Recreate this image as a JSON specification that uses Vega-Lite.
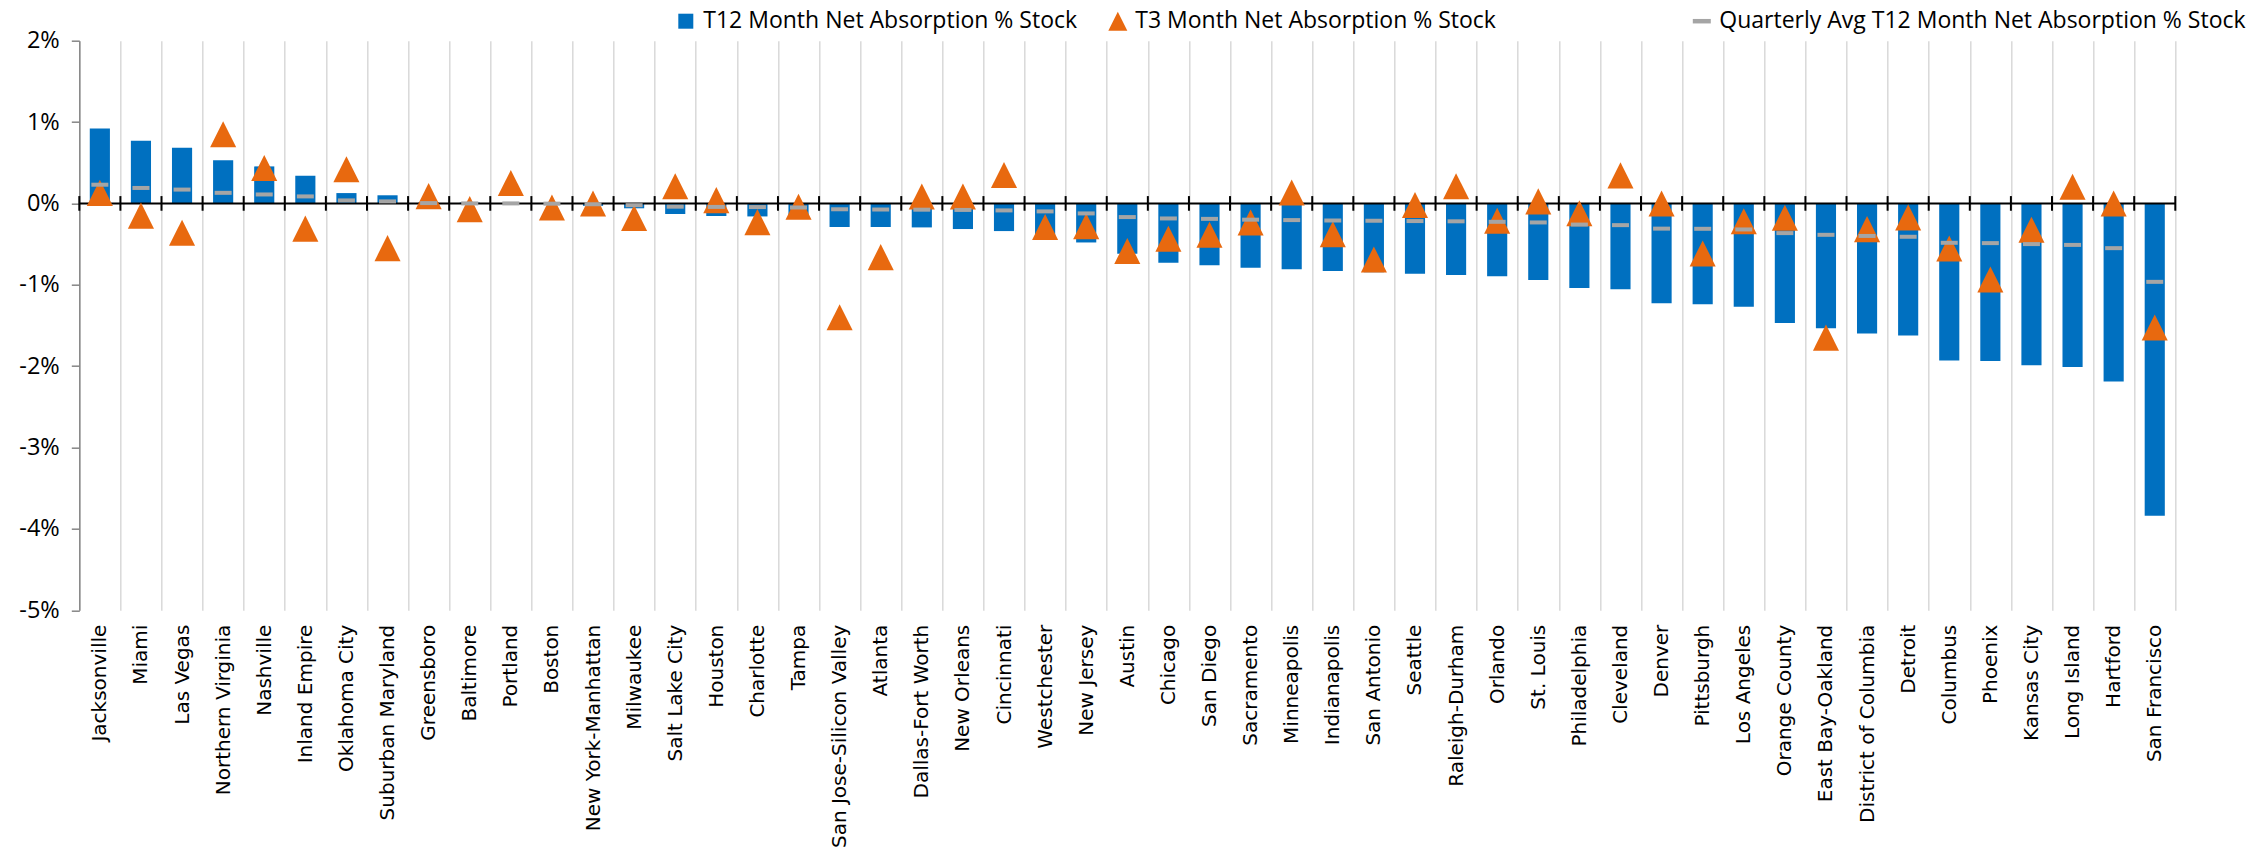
{
  "$schema": "https://vega.github.io/schema/vega-lite/v6.json",
  "width": 2096,
  "height": 569.5,
  "autosize": "none",
  "padding": {"left": 79.3, "top": 40.7, "right": 73.7, "bottom": 242.8},
  "background": "white",
  "config": {"view": {"stroke": null}, "font": "Open Sans"},
  "data": {"values": [
    {"city": "Jacksonville", "t12": 0.92, "t3": 0.13, "avg": 0.23},
    {"city": "Miami", "t12": 0.77, "t3": -0.15, "avg": 0.19},
    {"city": "Las Vegas", "t12": 0.685, "t3": -0.36, "avg": 0.17},
    {"city": "Northern Virginia", "t12": 0.53, "t3": 0.85, "avg": 0.13},
    {"city": "Nashville", "t12": 0.455, "t3": 0.435, "avg": 0.11},
    {"city": "Inland Empire", "t12": 0.34, "t3": -0.31, "avg": 0.086},
    {"city": "Oklahoma City", "t12": 0.127, "t3": 0.42, "avg": 0.037},
    {"city": "Suburban Maryland", "t12": 0.1, "t3": -0.55, "avg": 0.025},
    {"city": "Greensboro", "t12": 0.015, "t3": 0.09, "avg": 0.004},
    {"city": "Baltimore", "t12": 0.01, "t3": -0.07, "avg": 0.0},
    {"city": "Portland", "t12": 0.0, "t3": 0.25, "avg": 0.0},
    {"city": "Boston", "t12": -0.005, "t3": -0.05, "avg": -0.003},
    {"city": "New York-Manhattan", "t12": -0.03, "t3": 0.0, "avg": -0.01},
    {"city": "Milwaukee", "t12": -0.06, "t3": -0.18, "avg": -0.022},
    {"city": "Salt Lake City", "t12": -0.13, "t3": 0.21, "avg": -0.04},
    {"city": "Houston", "t12": -0.155, "t3": 0.04, "avg": -0.043},
    {"city": "Charlotte", "t12": -0.16, "t3": -0.23, "avg": -0.045},
    {"city": "Tampa", "t12": -0.18, "t3": -0.04, "avg": -0.05},
    {"city": "San Jose-Silicon Valley", "t12": -0.29, "t3": -1.4, "avg": -0.072},
    {"city": "Atlanta", "t12": -0.29, "t3": -0.66, "avg": -0.075},
    {"city": "Dallas-Fort Worth", "t12": -0.295, "t3": 0.086, "avg": -0.077},
    {"city": "New Orleans", "t12": -0.315, "t3": 0.086, "avg": -0.08},
    {"city": "Cincinnati", "t12": -0.34, "t3": 0.35, "avg": -0.086},
    {"city": "Westchester", "t12": -0.4, "t3": -0.29, "avg": -0.098},
    {"city": "New Jersey", "t12": -0.48, "t3": -0.28, "avg": -0.123},
    {"city": "Austin", "t12": -0.62, "t3": -0.585, "avg": -0.168},
    {"city": "Chicago", "t12": -0.73, "t3": -0.435, "avg": -0.185},
    {"city": "San Diego", "t12": -0.76, "t3": -0.385, "avg": -0.19},
    {"city": "Sacramento", "t12": -0.79, "t3": -0.234, "avg": -0.2},
    {"city": "Minneapolis", "t12": -0.81, "t3": 0.135, "avg": -0.205},
    {"city": "Indianapolis", "t12": -0.83, "t3": -0.38, "avg": -0.21},
    {"city": "San Antonio", "t12": -0.845, "t3": -0.69, "avg": -0.213},
    {"city": "Seattle", "t12": -0.865, "t3": -0.02, "avg": -0.217},
    {"city": "Raleigh-Durham", "t12": -0.88, "t3": 0.21, "avg": -0.22},
    {"city": "Orlando", "t12": -0.894, "t3": -0.213, "avg": -0.226},
    {"city": "St. Louis", "t12": -0.94, "t3": 0.025, "avg": -0.234},
    {"city": "Philadelphia", "t12": -1.04, "t3": -0.12, "avg": -0.26},
    {"city": "Cleveland", "t12": -1.054, "t3": 0.345, "avg": -0.267},
    {"city": "Denver", "t12": -1.226, "t3": 0.0, "avg": -0.31},
    {"city": "Pittsburgh", "t12": -1.24, "t3": -0.615, "avg": -0.312},
    {"city": "Los Angeles", "t12": -1.27, "t3": -0.22, "avg": -0.32},
    {"city": "Orange County", "t12": -1.47, "t3": -0.176, "avg": -0.365},
    {"city": "East Bay-Oakland", "t12": -1.534, "t3": -1.65, "avg": -0.386},
    {"city": "District of Columbia", "t12": -1.6, "t3": -0.316, "avg": -0.4},
    {"city": "Detroit", "t12": -1.624, "t3": -0.172, "avg": -0.41},
    {"city": "Columbus", "t12": -1.93, "t3": -0.554, "avg": -0.484},
    {"city": "Phoenix", "t12": -1.936, "t3": -0.935, "avg": -0.488},
    {"city": "Kansas City", "t12": -1.99, "t3": -0.324, "avg": -0.5},
    {"city": "Long Island", "t12": -2.01, "t3": 0.205, "avg": -0.51},
    {"city": "Hartford", "t12": -2.19, "t3": 0.0, "avg": -0.55},
    {"city": "San Francisco", "t12": -3.84, "t3": -1.526, "avg": -0.964}
  ]},
  "encoding": {
    "x": {
      "field": "city", "type": "nominal", "sort": null, "title": null,
      "scale": {"paddingInner": 0, "paddingOuter": 0},
      "axis": {
        "title": null, "orient": "bottom", "domain": false, "ticks": false,
        "tickBand": "extent", "grid": true, "gridColor": "#D9D9D9", "gridWidth": 1.5,
        "labelAngle": -90, "labelFont": "DejaVu Sans", "labelFontSize": 20,
        "labelColor": "black", "labelPadding": 14, "labelOverlap": false,
        "labelLimit": 0, "labelBound": false
      }
    }
  },
  "layer": [
    {
      "mark": {"type": "bar", "width": {"band": 0.49}},
      "encoding": {
        "y": {
          "field": "t12", "type": "quantitative", "title": null,
          "scale": {"domain": [-5, 2], "nice": false, "zero": false},
          "axis": {
            "title": null, "values": [-5, -4, -3, -2, -1, 0, 1, 2],
            "labelExpr": "datum.value + '%'", "labelFont": "Open Sans",
            "labelFontSize": 23.5, "labelColor": "black", "labelPadding": 12,
            "domainColor": "#868686", "domainWidth": 1.5,
            "tickColor": "#868686", "tickSize": 8, "tickWidth": 1.5, "grid": false
          }
        },
        "color": {
          "datum": "T12 Month Net Absorption % Stock",
          "scale": {"range": ["#0070C0"]},
          "legend": {
            "title": null, "orient": "none", "legendX": 595, "legendY": -31,
            "symbolType": "square", "symbolSize": 225, "symbolStrokeWidth": 0,
            "labelFont": "Open Sans", "labelFontSize": 23, "labelColor": "black",
            "labelOffset": 6, "padding": 0, "labelLimit": 0
          }
        }
      }
    },
    {
      "data": {"values": [{"z": 0}]},
      "mark": {"type": "rule", "color": "black", "strokeWidth": 2},
      "encoding": {"y": {"field": "z", "type": "quantitative"}, "x": null}
    },
    {
      "mark": {"type": "rule", "color": "black", "strokeWidth": 2},
      "encoding": {
        "x": {"field": "city", "type": "nominal", "sort": null, "bandPosition": 0, "title": null},
        "y": {"datum": 0.09},
        "y2": {"datum": -0.09}
      }
    },
    {
      "transform": [{"filter": "datum.city === 'San Francisco'"}],
      "mark": {"type": "rule", "color": "black", "strokeWidth": 2},
      "encoding": {
        "x": {"field": "city", "type": "nominal", "sort": null, "bandPosition": 1, "title": null},
        "y": {"datum": 0.09},
        "y2": {"datum": -0.09}
      }
    },
    {
      "mark": {"type": "point", "filled": true, "opacity": 1, "shape": "M0,-1L1,1L-1,1Z", "size": 680},
      "encoding": {
        "y": {"field": "t3", "type": "quantitative", "title": null},
        "color": {
          "datum": "T3 Month Net Absorption % Stock",
          "scale": {"range": ["#E8690F"]},
          "legend": {
            "title": null, "orient": "none", "legendX": 1027, "legendY": -31,
            "symbolType": "M0,-1L1,1L-1,1Z", "symbolSize": 361, "symbolStrokeWidth": 0,
            "symbolOpacity": 1,
            "labelFont": "Open Sans", "labelFontSize": 23, "labelColor": "black",
            "labelOffset": 6, "padding": 0, "labelLimit": 0
          }
        }
      }
    },
    {
      "mark": {"type": "tick", "thickness": 4, "size": 17, "opacity": 1},
      "encoding": {
        "y": {"field": "avg", "type": "quantitative", "title": null},
        "color": {
          "datum": "Quarterly Avg T12 Month Net Absorption % Stock",
          "scale": {"range": ["#A5A5A5"]},
          "legend": {
            "title": null, "orient": "none", "legendX": 1611, "legendY": -31,
            "symbolType": "M-1,-0.25H1V0.25H-1Z", "symbolSize": 324, "symbolStrokeWidth": 0,
            "symbolFillColor": "#A5A5A5", "symbolOpacity": 1,
            "labelFont": "Open Sans", "labelFontSize": 23, "labelColor": "black",
            "labelOffset": 6, "padding": 0, "labelLimit": 0
          }
        }
      }
    }
  ],
  "resolve": {"scale": {"color": "independent"}, "legend": {"color": "independent"}}
}
